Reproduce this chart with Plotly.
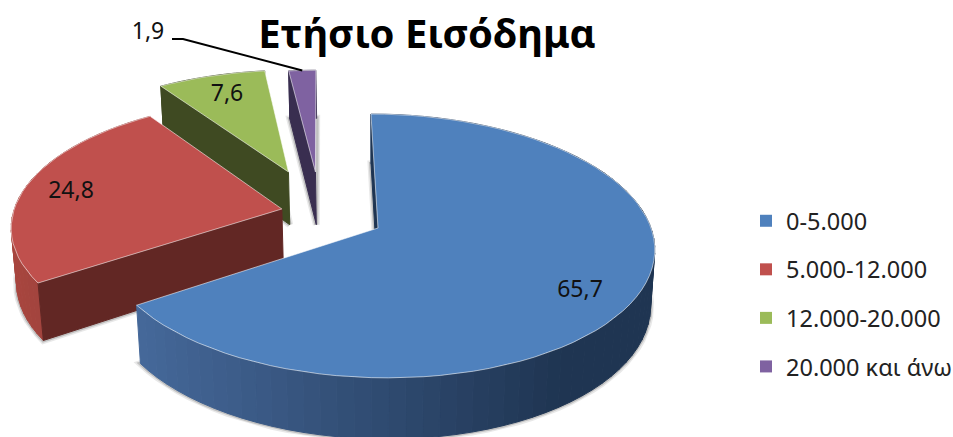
import numpy as np
import plotly.graph_objects as go

# Annual income shares
categories = ["0-5.000", "5.000-12.000", "12.000-20.000", "20.000 και άνω"]
shares = [65.7, 24.8, 7.6, 1.9]
share_labels = ["65,7", "24,8", "7,6", "1,9"]
chart_title = "Ετήσιο Εισόδημα"

W, H = 953, 437
FONT = "Noto Sans"

top_colors = ["#4f81bd", "#c0504d", "#9bbb59", "#7f62a1"]
wall_colors = ["#1f3552", "#622724", "#3f4a22", "#392e50"]
rim_left = ["#46699b", "#a8463f", "#6f8a3c", "#5a4478"]
rim_right = ["#1f3552", "#9c403c", "#3f4a22", "#392e50"]

# Pie centre on the page, plane radii, perspective strength, extrusion depth
CX, CY, RX, RY, SKEW, PERSP, DEPTH, SHRINK = 378, 228, 273, 129.5, -8, 0.136, 56, 0.015

# How far each slice is pulled out, in units of the pie radius
explode = [(0.0, 0.0), (-0.355, 0.15), (-0.335, 0.46), (-0.23, 0.46)]

# Label anchors on the page
label_xy = [(580, 291), (71, 192), (227, 95), (148, 33)]
label_sizes = [23, 23, 23, 23]


def project(u, v, z=0.0):
    """Map a point of the unit pie disc (z=0 top, z=1 bottom) to the page."""
    w = 1 + PERSP * v + SHRINK * z
    return CX + (RX * u + SKEW * v) / w, CY + (-RY * v + DEPTH * z) / w


def mix(c1, c2, t):
    a = [int(c1[i:i + 2], 16) for i in (1, 3, 5)]
    b = [int(c2[i:i + 2], 16) for i in (1, 3, 5)]
    return "#%02x%02x%02x" % tuple(round(p + (q - p) * t) for p, q in zip(a, b))


def poly(fig, pts, fill, line=None, width=1):
    xs, ys = zip(*pts)
    fig.add_trace(go.Scatter(
        x=list(xs) + [xs[0]], y=list(ys) + [ys[0]], mode="lines", fill="toself",
        fillcolor=fill, line=dict(color=line or fill, width=width),
        hoverinfo="skip", showlegend=False))


def outline(fig, pts, color, width):
    xs, ys = zip(*pts)
    fig.add_trace(go.Scatter(
        x=list(xs) + [xs[0]], y=list(ys) + [ys[0]], mode="lines",
        line=dict(color=color, width=width), hoverinfo="skip", showlegend=False))


fig = go.Figure()
edges = np.cumsum([0.0] + shares) / sum(shares) * 2 * np.pi

# Back slices first so nearer ones overlap them
for i in reversed(range(len(shares))):
    t0, t1 = edges[i], edges[i + 1]
    du, dv = explode[i]
    n = max(4, int(110 * (t1 - t0) / (2 * np.pi)) + 4)
    ts = np.linspace(t0, t1, n)
    disc = lambda t, z=0.0: project(du + np.sin(t), dv + np.cos(t), z)
    apex = lambda z=0.0: project(du, dv, z)

    # Soft shadow around the underside
    under = [apex(1)] + [disc(t, 1) for t in ts]
    outline(fig, under, "rgba(90,90,90,0.14)", 7)
    outline(fig, under, "rgba(90,90,90,0.28)", 4)

    # Curved outer side, one strip per arc step
    for a, b in zip(ts[:-1], ts[1:]):
        mid_x = disc((a + b) / 2)[0]
        shade = np.clip((mid_x - 130) / 430, 0, 1) if i == 0 else np.clip((mid_x - 10) / 60, 0, 1)
        col = mix(rim_left[i], rim_right[i], shade)
        poly(fig, [disc(a), disc(b), disc(b, 1), disc(a, 1)], col)

    # Flat cut wall facing the viewer
    poly(fig, [apex(), disc(t0), disc(t0, 1), apex(1)], wall_colors[i])

    # Top face
    poly(fig, [apex()] + [disc(t) for t in ts], top_colors[i],
         line="rgba(255,255,255,0.55)", width=1)

# Leader line for the smallest slice
t_mid = (edges[3] + edges[4]) / 2
end_x, end_y = project(explode[3][0] + np.sin(t_mid), explode[3][1] + np.cos(t_mid))
lead_x0, lead_y0 = label_xy[3][0] + 24, label_xy[3][1] + 6
fig.add_trace(go.Scatter(
    x=[lead_x0, lead_x0 + 11, end_x], y=[lead_y0, lead_y0, end_y], mode="lines",
    line=dict(color="#000000", width=2), hoverinfo="skip", showlegend=False))

# Share values
fig.add_trace(go.Scatter(
    x=[p[0] for p in label_xy], y=[p[1] for p in label_xy], mode="text",
    text=share_labels, textposition="middle center",
    textfont=dict(family=FONT, size=label_sizes, color="#111111"),
    hoverinfo="skip", showlegend=False))

# Legend keys
for name, color in zip(categories, top_colors):
    fig.add_trace(go.Scatter(
        x=[None], y=[None], mode="markers", name=name, legendgroup=name,
        marker=dict(symbol="square", size=12, color=color)))

fig.update_layout(
    width=W, height=H, margin=dict(l=0, r=0, t=0, b=0, pad=0, autoexpand=False),
    paper_bgcolor="#ffffff", plot_bgcolor="#ffffff",
    title=dict(text="<b>%s</b>" % chart_title, x=427 / W, y=1 - 34 / H,
               xanchor="center", yanchor="middle",
               font=dict(family=FONT, size=40, color="#000000")),
    xaxis=dict(range=[0, W], visible=False, fixedrange=True),
    yaxis=dict(range=[H, 0], visible=False, fixedrange=True),
    legend=dict(x=746 / W, y=1 - 294 / H, xanchor="left", yanchor="middle",
                bgcolor="rgba(0,0,0,0)", tracegroupgap=15, itemwidth=30,
                font=dict(family=FONT, size=23.5, color="#222222")),
)

fig.write_html("out.html")
